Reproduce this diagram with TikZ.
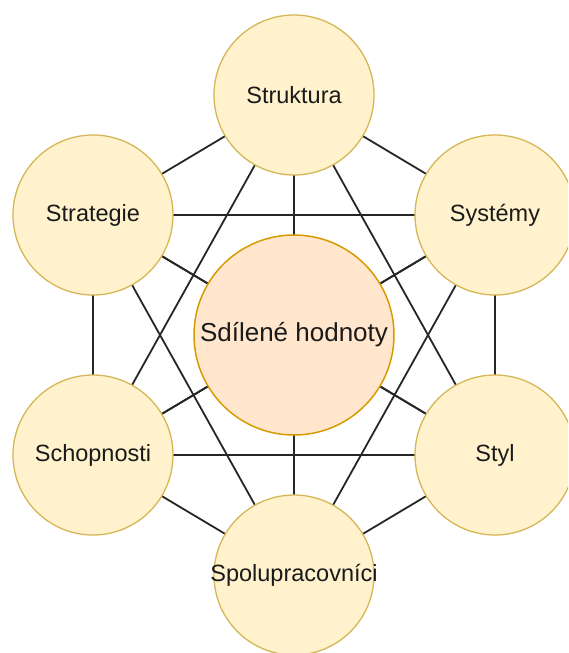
\documentclass[tikz,border=0pt]{standalone}
\usepackage{fontspec}
\setmainfont{Liberation Sans}
\usetikzlibrary{backgrounds}
\definecolor{yfill}{HTML}{FFF2CC}
\definecolor{ydraw}{HTML}{D6B656}
\definecolor{ofill}{HTML}{FFE6CC}
\definecolor{odraw}{HTML}{D79B00}
\definecolor{txt}{HTML}{1A1A1A}
\newcommand\zerowd[1]{\makebox[0pt]{#1}}
\begin{document}
\begin{tikzpicture}[x=1pt,y=-1pt,
  circ/.style={circle, fill=yfill, draw=ydraw, line width=1.3pt, minimum size=160pt, inner sep=0pt, text=txt, font=\fontsize{23.5}{28}\selectfont},
  core/.style={circle, fill=ofill, draw=odraw, line width=1.5pt, minimum size=200pt, inner sep=0pt, text=txt, font=\fontsize{26}{30}\selectfont},
  link/.style={line width=1.8pt, draw=black!85}]
\useasboundingbox (0,0) rectangle (568,653);
\clip (0,0) rectangle (568,653);
\node[core] (sh) at (294,335) {\zerowd{Sdílené hodnoty}};
\node[circ] (st) at (294,95) {\zerowd{Struktura}};
\node[circ] (sg) at (93,215) {\zerowd{Strategie}};
\node[circ] (sy) at (495,215) {\zerowd{Systémy}};
\node[circ] (sc) at (93,455) {\zerowd{Schopnosti}};
\node[circ] (sl) at (495,455) {\zerowd{Styl}};
\node[circ] (sp) at (294,575) {\zerowd{Spolupracovníci}};
\begin{scope}[on background layer]
  \foreach \a/\b in {st/sg, st/sy, st/sh, st/sc, st/sl, st/sp,
                     sg/sy, sg/sh, sg/sc, sg/sl, sg/sp,
                     sy/sh, sy/sl, sy/sc, sy/sp,
                     sc/sl, sc/sh, sc/sp,
                     sl/sh, sl/sp,
                     sh/sp}
    \draw[link] (\a.center) -- (\b.center);
\end{scope}
\end{tikzpicture}
\end{document}
